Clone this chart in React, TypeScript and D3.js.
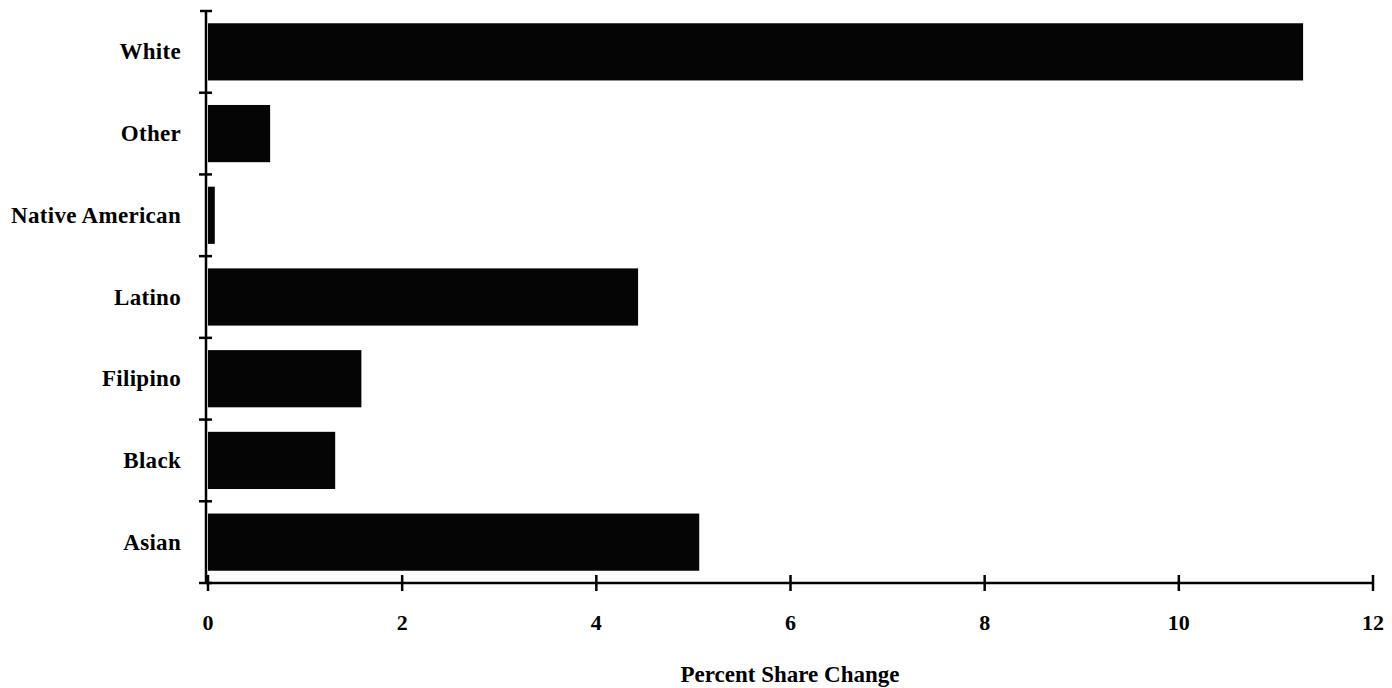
import React from "react";
import * as d3 from "d3";

const categories = ["White", "Other", "Native American", "Latino", "Filipino", "Black", "Asian"];
const values = [11.28, 0.64, 0.07, 4.43, 1.58, 1.31, 5.06];
const xTicks = [0, 2, 4, 6, 8, 10, 12];
const xTitle = "Percent Share Change";

const W = 1392;
const H = 688;

export default function App() {
  const x = d3.scaleLinear().domain([0, 12]).range([208, 1373]);
  const y = d3
    .scaleBand<string>()
    .domain(categories)
    .range([11, 583])
    .paddingInner(0.3)
    .paddingOuter(0.15);
  const step = y.step();
  const [y0, y1] = y.range();
  const axisY = y1;
  const axisX = x(0) - 2;
  const font = "'Liberation Serif', 'DejaVu Serif', serif";

  return (
    <div style={{ position: "absolute", left: 0, top: 0, width: W, height: H, background: "#fff" }}>
      <svg width={W} height={H} style={{ display: "block" }}>
        <rect x={0} y={0} width={W} height={H} fill="#fff" />
        {categories.map((c, i) => (
          <rect
            key={c}
            x={x(0)}
            y={y(c)!}
            width={x(values[i]) - x(0)}
            height={y.bandwidth()}
            fill="#050505"
          />
        ))}
        {/* y axis */}
        <line x1={axisX} x2={axisX} y1={y0} y2={axisY} stroke="#000" strokeWidth={2.5} />
        <line x1={axisX - 6} x2={axisX + 6} y1={y0} y2={y0} stroke="#000" strokeWidth={2.5} />
        {categories.map((c, i) => {
          const ty = y0 + (i + 1) * step;
          return <line key={"yt" + c} x1={axisX - 7} x2={axisX + 6} y1={ty} y2={ty} stroke="#000" strokeWidth={2.5} />;
        })}
        {categories.map((c) => (
          <text
            key={"yl" + c}
            x={181}
            y={y(c)! + y.bandwidth() / 2}
            textAnchor="end"
            dominantBaseline="central"
            fontFamily={font}
            fontWeight="bold"
            fontSize={23}
            letterSpacing={0.3}
          >
            {c}
          </text>
        ))}
        {/* x axis */}
        <line x1={axisX} x2={x(12)} y1={axisY} y2={axisY} stroke="#000" strokeWidth={2.5} />
        {xTicks.map((t) => (
          <g key={"xt" + t}>
            <line x1={x(t)} x2={x(t)} y1={axisY - 8} y2={axisY + 8} stroke="#000" strokeWidth={2.5} />
            <text
              x={x(t)}
              y={622}
              textAnchor="middle"
              dominantBaseline="central"
              fontFamily={font}
              fontWeight="bold"
              fontSize={22}
            >
              {t}
            </text>
          </g>
        ))}
        <text
          x={790}
          y={674}
          textAnchor="middle"
          dominantBaseline="central"
          fontFamily={font}
          fontWeight="bold"
          fontSize={23}
        >
          {xTitle}
        </text>
      </svg>
    </div>
  );
}
